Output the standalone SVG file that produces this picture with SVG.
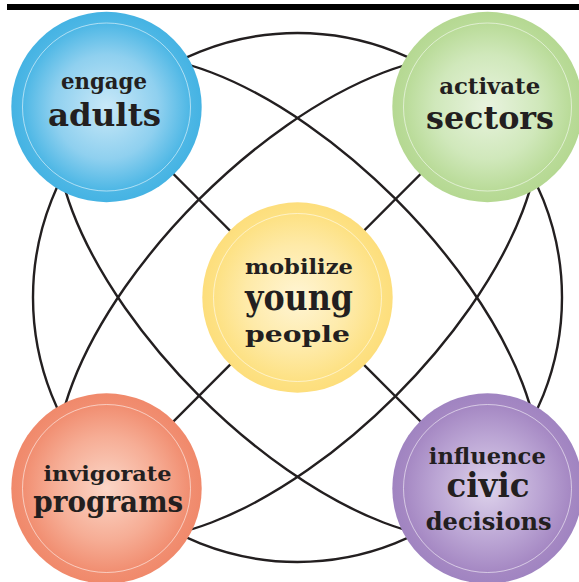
<svg xmlns="http://www.w3.org/2000/svg" width="579" height="582" viewBox="0 0 579 582">
  <defs>
    <radialGradient id="gBlue" cx="50%" cy="50%" r="50%">
      <stop offset="0" stop-color="#c8e8f8"/>
      <stop offset="0.55" stop-color="#8fd0ef"/>
      <stop offset="0.88" stop-color="#4db7e5"/>
      <stop offset="1" stop-color="#45b3e3"/>
    </radialGradient>
    <radialGradient id="gGreen" cx="50%" cy="50%" r="50%">
      <stop offset="0" stop-color="#e8f3de"/>
      <stop offset="0.55" stop-color="#d0e8bb"/>
      <stop offset="0.88" stop-color="#b9db98"/>
      <stop offset="1" stop-color="#b5d892"/>
    </radialGradient>
    <radialGradient id="gYellow" cx="50%" cy="50%" r="50%">
      <stop offset="0" stop-color="#fff5d4"/>
      <stop offset="0.55" stop-color="#feeaa8"/>
      <stop offset="0.88" stop-color="#fde183"/>
      <stop offset="1" stop-color="#fdde7c"/>
    </radialGradient>
    <radialGradient id="gOrange" cx="50%" cy="50%" r="50%">
      <stop offset="0" stop-color="#fbd6c7"/>
      <stop offset="0.55" stop-color="#f6ad95"/>
      <stop offset="0.88" stop-color="#f18e71"/>
      <stop offset="1" stop-color="#f0896b"/>
    </radialGradient>
    <radialGradient id="gPurple" cx="50%" cy="50%" r="50%">
      <stop offset="0" stop-color="#ddd2eb"/>
      <stop offset="0.55" stop-color="#bba5d4"/>
      <stop offset="0.88" stop-color="#a588c3"/>
      <stop offset="1" stop-color="#a084c1"/>
    </radialGradient>
  </defs>
  <style>
    .conn { fill: none; stroke: #231f20; stroke-width: 2.4; }
    .inner { fill: none; stroke: #ffffff; stroke-opacity: 0.55; stroke-width: 1; }
    .lbl { font-family: "DejaVu Serif", "Liberation Serif", serif; font-weight: bold; fill: #231f20; text-anchor: middle; }
  </style>

  <rect x="7" y="4" width="572" height="6" fill="#000000"/>

  <g id="connectors">
    <circle class="conn" cx="297.5" cy="297.5" r="264.5"/>
    <ellipse class="conn" cx="297.5" cy="297.5" rx="311" ry="139" transform="rotate(45 297.5 297.5)"/>
    <ellipse class="conn" cx="297.5" cy="297.5" rx="311" ry="139" transform="rotate(-45 297.5 297.5)"/>
    <line class="conn" x1="106.5" y1="107" x2="487.5" y2="488.5"/>
    <line class="conn" x1="487.5" y1="107" x2="106.5" y2="488.5"/>
  </g>

  <g id="node-engage-adults">
    <circle cx="106.5" cy="107" r="95.2" fill="url(#gBlue)"/>
    <circle class="inner" cx="106.5" cy="107" r="84"/>
    <text class="lbl" x="104" y="89" font-size="22" textLength="86" lengthAdjust="spacingAndGlyphs">engage</text>
    <text class="lbl" x="104.5" y="126" font-size="31" textLength="113" lengthAdjust="spacingAndGlyphs">adults</text>
  </g>

  <g id="node-activate-sectors">
    <circle cx="487.5" cy="107" r="95.2" fill="url(#gGreen)"/>
    <circle class="inner" cx="487.5" cy="107" r="84"/>
    <text class="lbl" x="489.7" y="93.5" font-size="22" textLength="101" lengthAdjust="spacingAndGlyphs">activate</text>
    <text class="lbl" x="490" y="128.5" font-size="31" textLength="128" lengthAdjust="spacingAndGlyphs">sectors</text>
  </g>

  <g id="node-mobilize-young-people">
    <circle cx="297.5" cy="297.5" r="95.2" fill="url(#gYellow)"/>
    <circle class="inner" cx="297.5" cy="297.5" r="84"/>
    <text class="lbl" x="299" y="274" font-size="21" textLength="108" lengthAdjust="spacingAndGlyphs">mobilize</text>
    <text class="lbl" x="299" y="309.5" font-size="35" textLength="108" lengthAdjust="spacingAndGlyphs">young</text>
    <text class="lbl" x="297.5" y="341.7" font-size="23" textLength="105" lengthAdjust="spacingAndGlyphs">people</text>
  </g>

  <g id="node-invigorate-programs">
    <circle cx="106.5" cy="488.5" r="95.2" fill="url(#gOrange)"/>
    <circle class="inner" cx="106.5" cy="488.5" r="84"/>
    <text class="lbl" x="107.5" y="481" font-size="21" textLength="128" lengthAdjust="spacingAndGlyphs">invigorate</text>
    <text class="lbl" x="108.3" y="511.7" font-size="30" textLength="150" lengthAdjust="spacingAndGlyphs">programs</text>
  </g>

  <g id="node-influence-civic-decisions">
    <circle cx="487.5" cy="488.5" r="95.2" fill="url(#gPurple)"/>
    <circle class="inner" cx="487.5" cy="488.5" r="84"/>
    <text class="lbl" x="487.3" y="464.3" font-size="22" textLength="117" lengthAdjust="spacingAndGlyphs">influence</text>
    <text class="lbl" x="488" y="496.7" font-size="33" textLength="83" lengthAdjust="spacingAndGlyphs">civic</text>
    <text class="lbl" x="488.7" y="530" font-size="24" textLength="126" lengthAdjust="spacingAndGlyphs">decisions</text>
  </g>
</svg>
